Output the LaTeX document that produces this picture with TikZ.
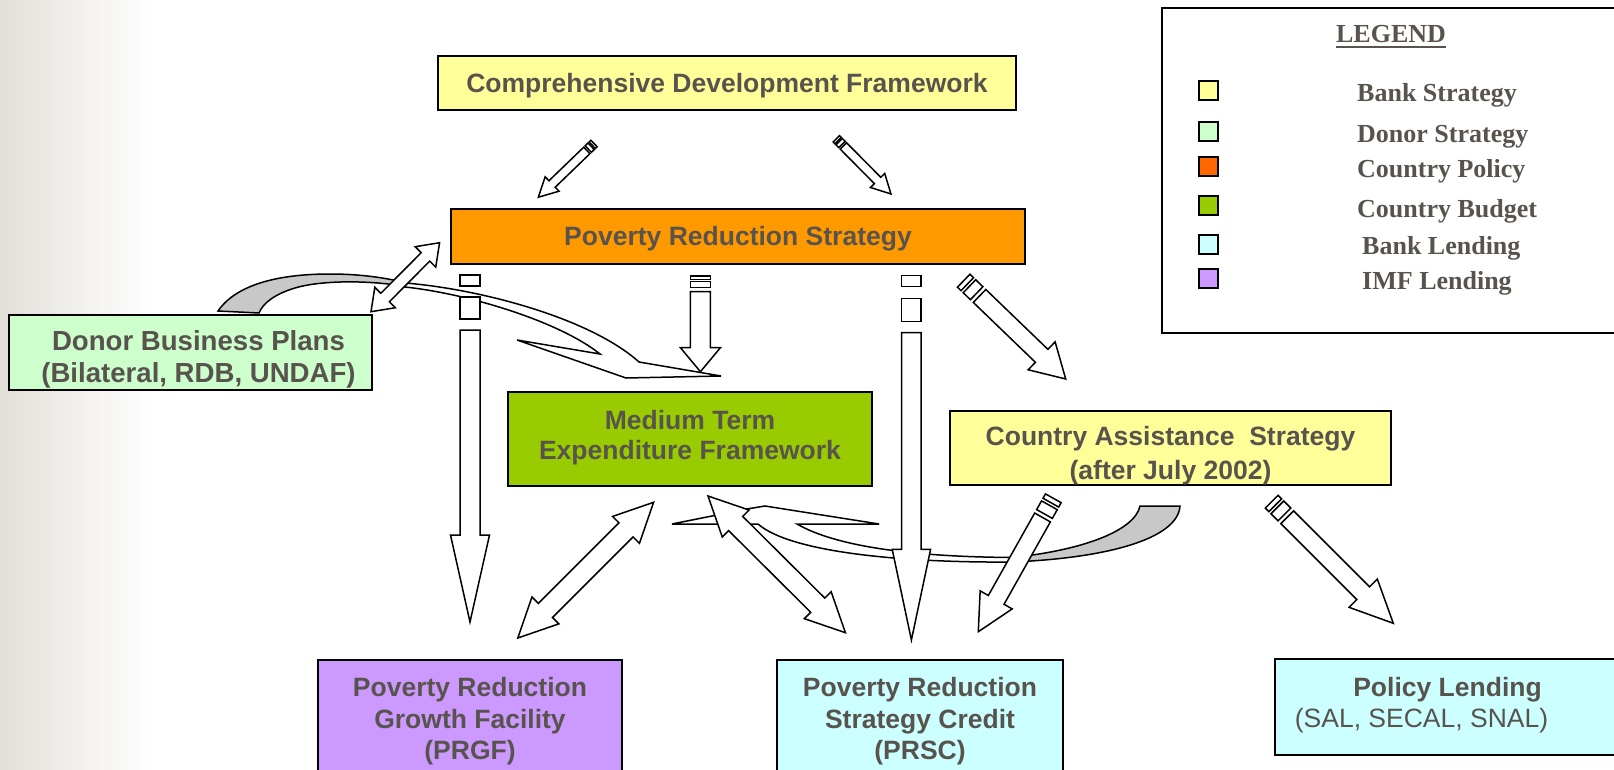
\documentclass[tikz,border=0pt]{standalone}
\usepackage{fontspec}
\setmainfont{Liberation Sans}
\newfontfamily\legendfont{Liberation Serif}
\usetikzlibrary{calc}

\definecolor{txtgrey}{RGB}{89,83,78}
\definecolor{sidegrey}{RGB}{226,223,216}
\definecolor{bankyellow}{HTML}{FFFF99}
\definecolor{donorgreen}{HTML}{CCFFCC}
\definecolor{policyorange}{HTML}{FF9900}
\definecolor{keyorange}{HTML}{FF6600}
\definecolor{budgetgreen}{HTML}{99CC00}
\definecolor{lendcyan}{HTML}{CCFFFF}
\definecolor{imfpurple}{HTML}{CC99FF}
\definecolor{ribbongrey}{HTML}{C8C8C8}

\tikzset{
	box/.style={draw=black, line width=2pt, inner sep=0pt},
	boxtext/.style={align=center, inner sep=0pt, text=txtgrey,
		font=\fontsize{26.5}{31.5}\selectfont\bfseries},
	arrowline/.style={draw=black, line width=1.5pt, fill=white, line join=miter},
	curveback/.style={draw=black, line width=1.5pt, fill=ribbongrey},
	curvefront/.style={draw=black, line width=1.5pt, fill=white},
	keybox/.style={draw=black, line width=2pt, minimum size=19pt, inner sep=0pt},
	keytext/.style={anchor=base west, inner sep=0pt, text=txtgrey,
		font=\legendfont\fontsize{26}{30}\selectfont\bfseries},
}

% block arrow with two stripes at its tail
% #1 tail, #2 tip, #3 half shaft, #4 half head, #5 head length, #6-#9 stripe, gap, stripe, gap
\newcommand\stripearrow[9]{%
	\pgfpointdiff{\pgfpointanchor{#1}{center}}{\pgfpointanchor{#2}{center}}%
	\pgfgetlastxy{\arrdx}{\arrdy}%
	\pgfmathsetmacro\arrang{atan2(\arrdy,\arrdx)}%
	\pgfmathsetmacro\arrlen{veclen(\arrdx,\arrdy)}%
	\pgfmathsetmacro\sa{#6}\pgfmathsetmacro\sb{#6+#7}%
	\pgfmathsetmacro\sc{#6+#7+#8}\pgfmathsetmacro\sd{#6+#7+#8+#9}%
	\pgfmathsetmacro\he{\arrlen-#5}%
	\begin{scope}[shift={(#1)}, rotate=\arrang, x=1pt, y=1pt]
		\draw[arrowline] (0,-#3) rectangle (\sa,#3);
		\draw[arrowline] (\sb,-#3) rectangle (\sc,#3);
		\draw[arrowline] (\sd,-#3) -- (\he,-#3) -- (\he,-#4) -- (\arrlen,0)
			-- (\he,#4) -- (\he,#3) -- (\sd,#3) -- cycle;
	\end{scope}}

% block arrow with a head at both ends: #1, #2 tips, #3 half shaft, #4 half head, #5 head length
\newcommand\dblarrow[5]{%
	\pgfpointdiff{\pgfpointanchor{#1}{center}}{\pgfpointanchor{#2}{center}}%
	\pgfgetlastxy{\arrdx}{\arrdy}%
	\pgfmathsetmacro\arrang{atan2(\arrdy,\arrdx)}%
	\pgfmathsetmacro\arrlen{veclen(\arrdx,\arrdy)}%
	\pgfmathsetmacro\he{\arrlen-#5}%
	\begin{scope}[shift={(#1)}, rotate=\arrang, x=1pt, y=1pt]
		\draw[arrowline] (0,0) -- (#5,#4) -- (#5,#3) -- (\he,#3) -- (\he,#4) -- (\arrlen,0)
			-- (\he,-#4) -- (\he,-#3) -- (#5,-#3) -- (#5,-#4) -- cycle;
	\end{scope}}

\begin{document}
\begin{tikzpicture}[x=1pt, y=-1pt]
	\useasboundingbox (0,0) rectangle (1614,770);
	\clip (0,0) rectangle (1614,770);
	\fill[white] (0,0) rectangle (1614,770);
	\shade[left color=sidegrey, right color=white] (0,0) rectangle (150,770);

	% boxes
	\node[box, fill=bankyellow, minimum width=578pt, minimum height=54pt] (cdf) at (727,83) {};
	\node[box, fill=policyorange, minimum width=574pt, minimum height=55pt] (prs) at (738,236.5) {};
	\node[box, fill=donorgreen, minimum width=363pt, minimum height=75pt] (dbp) at (190.5,352.5) {};
	\node[box, fill=budgetgreen, minimum width=364pt, minimum height=94pt] (mtef) at (690,439) {};
	\node[box, fill=bankyellow, minimum width=441pt, minimum height=74pt] (cas) at (1170.5,448) {};
	\node[box, fill=imfpurple, minimum width=304pt, minimum height=116pt] (prgf) at (470,718) {};
	\node[box, fill=lendcyan, minimum width=286pt, minimum height=116pt] (prsc) at (920,718) {};
	\node[box, fill=lendcyan, minimum width=345pt, minimum height=96pt] (pl) at (1447.5,707) {};

	% box texts
	\node[boxtext] (cdf-t) at ([yshift=-3pt]cdf.center) {Comprehensive Development Framework};
	\node[boxtext] (prs-t) at ([yshift=-2pt]prs.center) {Poverty Reduction Strategy};
	\node[boxtext, font=\fontsize{27.6}{32}\selectfont\bfseries] (dbp-t) at ([xshift=8pt, yshift=-7pt]dbp.center) {Donor Business Plans\\(Bilateral, RDB, UNDAF)};
	\node[boxtext, font=\fontsize{26.5}{30}\selectfont\bfseries] (mtef-t) at ([yshift=1pt]mtef.center) {Medium Term\\Expenditure Framework};
	\node[boxtext, font=\fontsize{26.5}{34}\selectfont\bfseries] (cas-t) at ([yshift=-8pt]cas.center) {Country Assistance\ \ Strategy\\(after July 2002)};
	\node[boxtext] (prgf-t) at ([yshift=-3.5pt]prgf.center) {Poverty Reduction\\Growth Facility\\(PRGF)};
	\node[boxtext] (prsc-t) at ([yshift=-3.5pt]prsc.center) {Poverty Reduction\\Strategy Credit\\(PRSC)};
	\node[boxtext] (pl-t) at ([yshift=2pt]pl.center) {Policy Lending\\\mdseries(SAL, SECAL, SNAL)\hspace*{52pt}};

	% legend
	\node[draw=black, line width=2pt, minimum width=457pt, minimum height=325pt] (legend) at (1390.5,170.5) {};
	\node[keytext, anchor=base] (legtitle) at (1391,43) {LEGEND};
	\draw[txtgrey, line width=2pt] ([yshift=-4.5pt]legtitle.base west) -- ([yshift=-4.5pt]legtitle.base east);
	\node[keybox, fill=bankyellow] (kbank) at (1208.5,90.5) {};
	\node[keybox, fill=donorgreen] (kdonor) at (1208.5,132) {};
	\node[keybox, fill=keyorange] (kpolicy) at (1208.5,166.5) {};
	\node[keybox, fill=budgetgreen] (kbudget) at (1208.5,206) {};
	\node[keybox, fill=lendcyan] (klend) at (1208.5,244) {};
	\node[keybox, fill=imfpurple] (kimf) at (1208.5,278.5) {};
	\node[keytext] (tbank) at (1357,101.5) {Bank Strategy};
	\node[keytext] (tdonor) at (1357,142.5) {Donor Strategy};
	\node[keytext] (tpolicy) at (1357,177.5) {Country Policy};
	\node[keytext] (tbudget) at (1357,217.5) {Country Budget};
	\node[keytext] (tlend) at (1362,254.5) {Bank Lending};
	\node[keytext] (timf) at (1362,289.5) {IMF Lending};

	% curved arrows
	\filldraw[curveback] (218,311) .. controls (238,282) and (285,274) .. (330,274)
		.. controls (365,274) and (392,279) .. (410,284) -- (396,285)
		.. controls (360,280) and (318,281) .. (295,288)
		.. controls (275,294) and (263,303) .. (259,313) -- cycle;
	\filldraw[curvefront] (405,283) .. controls (480,289) and (590,318) .. (639,362)
		-- (721,376) -- (626,378) -- (517,340) -- (600,354)
		.. controls (560,322) and (470,294) .. (405,287) -- cycle;
	\filldraw[curveback] (1140,506) -- (1180,506) .. controls (1178,538) and (1110,558) .. (1012,562)
		-- (1012,557.5) .. controls (1085,550) and (1135,530) .. (1140,506) -- cycle;
	\filldraw[curvefront] (672,524) -- (747,509) -- (765,506) -- (879,524) -- (797,524)
		.. controls (835,546) and (910,557) .. (1015,557.5) -- (1015,562)
		.. controls (900,563) and (790,552) .. (758,524) -- cycle;

	% arrow ends
	\coordinate (cdf1) at (594,143.5);  \coordinate (prs1) at (538.3,197.3);
	\coordinate (cdf2) at (836.3,138.8); \coordinate (prs2) at (891,194);
	\coordinate (dbpNE) at (371,311.7);  \coordinate (prsW) at (439.6,242.7);
	\coordinate (prs3) at (470,275);     \coordinate (prgfN) at (470,622);
	\coordinate (prs4) at (700.4,276);   \coordinate (mtefN) at (700.4,371.7);
	\coordinate (prs5) at (911.4,275.7); \coordinate (prscN) at (911.4,640);
	\coordinate (prs6) at (963.7,280.7); \coordinate (casN) at (1065.7,379);
	\coordinate (mtefS1) at (653.6,502.3); \coordinate (prgfNE) at (517.8,638);
	\coordinate (mtefS2) at (708,496);   \coordinate (prscNW) at (845.4,632.7);
	\coordinate (cas1) at (1053.3,498.3); \coordinate (prscNE) at (978.3,631.7);
	\coordinate (cas2) at (1271.7,501.7); \coordinate (plN) at (1393.3,623.3);

	% block arrows
	\stripearrow{cdf1}{prs1}{4.5}{10}{19}{2.5}{1.5}{4}{2}
	\stripearrow{cdf2}{prs2}{4.5}{10}{19}{2.5}{1.5}{4}{2}
	\dblarrow{dbpNE}{prsW}{6}{14.5}{20}
	\stripearrow{prs3}{prgfN}{10}{19.5}{87}{11}{11}{22}{11}
	\stripearrow{prs4}{mtefN}{10}{20}{24}{3.3}{2.4}{6}{4}
	\stripearrow{prs5}{prscN}{9.7}{19.2}{90.7}{11}{11.6}{23.4}{11}
	\stripearrow{prs6}{casN}{9}{19.4}{33.4}{5}{3}{10}{4}
	\dblarrow{mtefS1}{prgfNE}{10}{19}{39}
	\dblarrow{mtefS2}{prscNW}{10}{19}{39}
	\stripearrow{cas1}{prscNE}{9}{18.4}{36.5}{5}{3}{10}{4}
	\stripearrow{cas2}{plN}{9}{20}{42.6}{5}{3}{10}{4}
\end{tikzpicture}
\end{document}
